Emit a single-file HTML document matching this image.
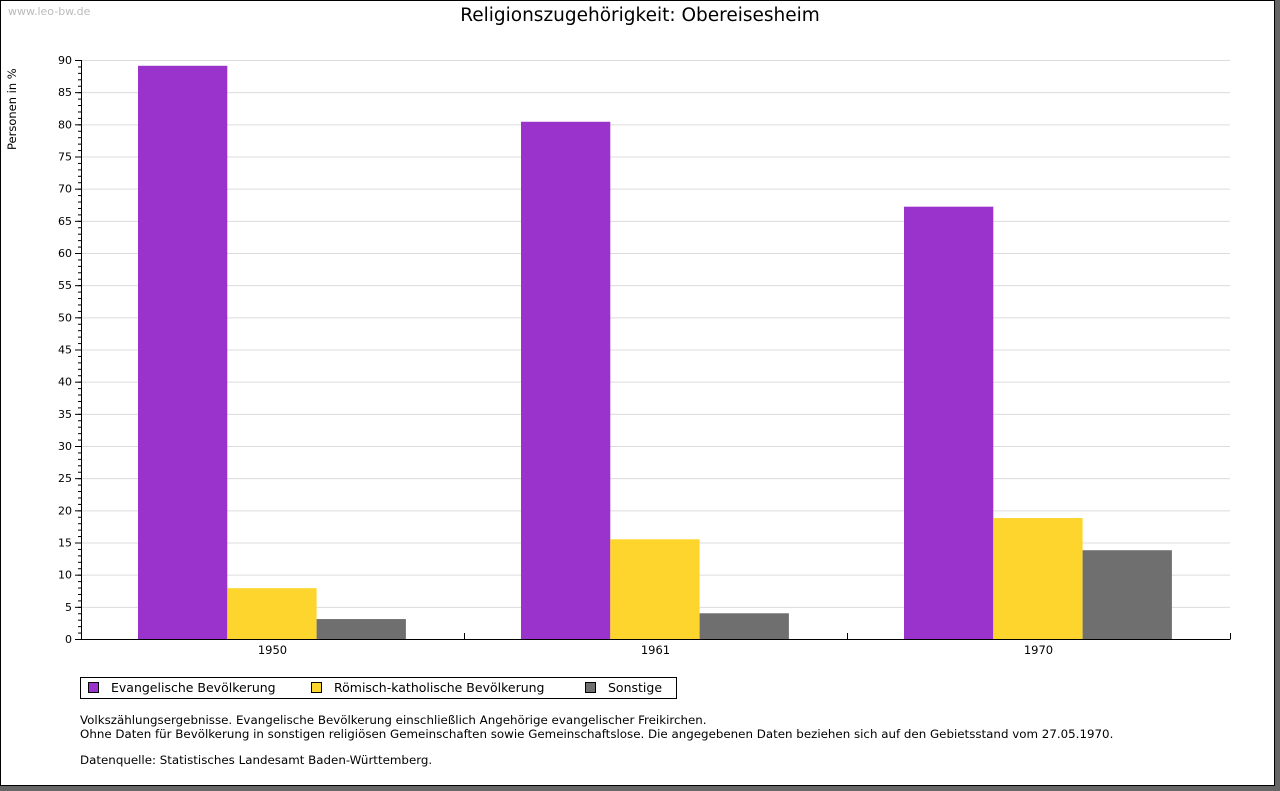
<!DOCTYPE html>
<html><head><meta charset="utf-8"><style>
body{margin:0;width:1280px;height:791px;background:#666;font-family:"Liberation Sans","DejaVu Sans",sans-serif;overflow:hidden}
#frame{position:absolute;left:0;top:0;width:1273px;height:784px;background:#fff;border:1px solid #000}
text{font-family:"DejaVu Sans","Liberation Sans",sans-serif}
</style></head><body>
<div id="frame"></div>
<svg id="c" width="1280" height="791" style="position:absolute;left:0;top:0">
<text x="8" y="15" font-size="11" fill="#bbb">www.leo-bw.de</text>
<text x="640" y="21" font-size="18.5" text-anchor="middle" fill="#000">Religionszugehörigkeit: Obereisesheim</text>
<text transform="translate(16,150) rotate(-90)" font-size="11.5">Personen in %</text>
<g id="grid"></g><g id="bars"></g><g id="axes"></g>
<g>
<rect x="80.5" y="677.5" width="596" height="21" fill="#fff" stroke="#000"/>
<rect x="88.5" y="682.5" width="10" height="10" fill="#9933cc" stroke="#000"/>
<text x="111" y="692" font-size="12.5">Evangelische Bevölkerung</text>
<rect x="311.5" y="682.5" width="10" height="10" fill="#fdd52d" stroke="#000"/>
<text x="334" y="692" font-size="12.5">Römisch-katholische Bevölkerung</text>
<rect x="585.5" y="682.5" width="10" height="10" fill="#6f6f6f" stroke="#000"/>
<text x="608" y="692" font-size="12.5">Sonstige</text>
</g>
<g font-size="11.85">
<text x="80" y="724">Volkszählungsergebnisse. Evangelische Bevölkerung einschließlich Angehörige evangelischer Freikirchen.</text>
<text x="80" y="738">Ohne Daten für Bevölkerung in sonstigen religiösen Gemeinschaften sowie Gemeinschaftslose. Die angegebenen Daten beziehen sich auf den Gebietsstand vom 27.05.1970.</text>
<text x="80" y="764">Datenquelle: Statistisches Landesamt Baden-Württemberg.</text>
</g>
</svg>
<script>
const categories=["1950","1961","1970"];
const evangelisch=[89.1,80.4,67.2];
const katholisch=[7.9,15.5,18.8];
const sonstige=[3.1,4.0,13.8];
const yTicks=[0,5,10,15,20,25,30,35,40,45,50,55,60,65,70,75,80,85,90];
const NS="http://www.w3.org/2000/svg";
const x0=81,x1=1230,y0=639,y1=60,yMax=90;
const y=v=>y0-(v/yMax)*(y0-y1);
const gw=(x1-x0)/categories.length;
function mk(t,a,p){const e=document.createElementNS(NS,t);for(const k in a)e.setAttribute(k,a[k]);p.appendChild(e);return e;}
const grid=document.getElementById('grid'),bars=document.getElementById('bars'),axes=document.getElementById('axes');
yTicks.forEach(v=>{
  if(v>0){const l=mk('line',{x1:x0,x2:x1,y1:y(v)+.5,y2:y(v)+.5,stroke:'#dcdcdc'},grid);
  
  }
  mk('line',{x1:x0-6,x2:x0,y1:y(v)+.5,y2:y(v)+.5,stroke:'#000'},axes);
  const t=mk('text',{x:x0-9,y:y(v)+4,'font-size':11,'text-anchor':'end'},axes);t.textContent=v;
  
  
});
for(let v=0;v<=yMax;v++){mk('line',{x1:x0-3,x2:x0,y1:y(v)+.5,y2:y(v)+.5,stroke:'#000'},axes);}
const series=[[evangelisch,'#9933cc','bar-evangelisch'],[katholisch,'#fdd52d','bar-katholisch'],[sonstige,'#6f6f6f','bar-sonstige']];
const bw=89.3,off=57;
categories.forEach((c,i)=>{
  const gx=x0+i*gw;
  series.forEach(([arr,col,nm],s)=>{
    const r=mk('rect',{x:gx+off+s*bw,y:y(arr[i]),width:bw,height:y0-y(arr[i]),fill:col},bars);
    
    
  });
  const t=mk('text',{x:gx+gw/2,y:y0+15,'font-size':11.5,'text-anchor':'middle'},axes);t.textContent=c;
  
  
  mk('line',{x1:Math.round(gx+gw)+.5,x2:Math.round(gx+gw)+.5,y1:y0-6,y2:y0,stroke:'#000'},axes);
});
mk('line',{x1:x0+.5,x2:x0+.5,y1:y1,y2:y0+.5,stroke:'#000'},axes);
mk('line',{x1:x0,x2:x1+.5,y1:y0+.5,y2:y0+.5,stroke:'#000'},axes);
</script>
</body></html>
